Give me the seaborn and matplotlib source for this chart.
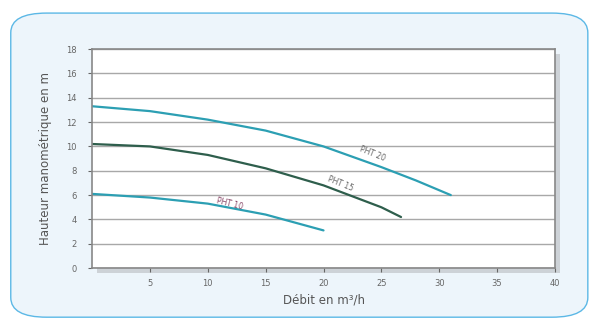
import pandas as pd
import numpy as np
import matplotlib
matplotlib.use('Agg')
import matplotlib.pyplot as plt
from matplotlib.patches import FancyBboxPatch
import seaborn as sns

# courbes
debit_20 = [0, 5, 10, 15, 20, 25, 28, 31]
haut_20 = [13.3, 12.9, 12.2, 11.3, 10.0, 8.3, 7.2, 6.0]
debit_15 = [0, 5, 10, 15, 20, 25, 26.7]
haut_15 = [10.2, 10.0, 9.3, 8.2, 6.8, 5.0, 4.2]
debit_10 = [0, 5, 10, 15, 20]
haut_10 = [6.1, 5.8, 5.3, 4.4, 3.1]
noms = ['PHT 20', 'PHT 15', 'PHT 10']

df = pd.concat([
    pd.DataFrame({'debit': debit_20, 'hauteur': haut_20, 'pompe': noms[0]}),
    pd.DataFrame({'debit': debit_15, 'hauteur': haut_15, 'pompe': noms[1]}),
    pd.DataFrame({'debit': debit_10, 'hauteur': haut_10, 'pompe': noms[2]}),
])

sns.set_style('white')
plt.rcParams['font.family'] = ['DejaVu Sans']

fig = plt.figure(figsize=(5.98, 3.27), dpi=100)
fig.patch.set_facecolor('white')
# cadre arrondi bleu clair
cadre = FancyBboxPatch((0.018, 0.03), 0.965, 0.93, boxstyle='round,pad=0,rounding_size=0.06',
                       transform=fig.transFigure, facecolor='#edf5fb', edgecolor='#5cb8e6',
                       linewidth=1.0, zorder=0)
fig.patches.append(cadre)
# ombre portée
ombre = FancyBboxPatch((0.162, 0.165), 0.774, 0.670, boxstyle='square,pad=0',
                       transform=fig.transFigure, facecolor='#b8bcc0', edgecolor='none',
                       alpha=0.6, zorder=0.5)
fig.patches.append(ombre)

ax = fig.add_axes([0.154, 0.180, 0.774, 0.670])
ax.set_zorder(2)

palette = {'PHT 20': '#2c9fb3', 'PHT 15': '#2e5e4c', 'PHT 10': '#2c9fb3'}
sns.lineplot(data=df, x='debit', y='hauteur', hue='pompe', palette=palette,
             linewidth=1.6, legend=False, ax=ax, sort=False, estimator=None)

ax.set_xlim(0, 40)
ax.set_ylim(0, 18)
ax.set_xticks(range(5, 41, 5))
ax.set_yticks(range(0, 19, 2))
ax.yaxis.grid(True, color='#a8a8a8', linewidth=1.0)
ax.xaxis.grid(False)
ax.tick_params(axis='both', labelsize=6, colors='#666666', length=3, direction='out',
               left=True, bottom=True)
ax.tick_params(axis='y', pad=8)
ax.tick_params(axis='x', pad=5)
for s in ax.spines.values():
    s.set_color('#888888')
    s.set_linewidth(1.2)
ax.set_facecolor('white')
ax.set_xlabel('Débit en m³/h', fontsize=8.5, color='#555555', labelpad=4)
ax.set_ylabel('Hauteur manométrique en m', fontsize=8.5, color='#555555', labelpad=10)

# étiquettes des courbes
ax.text(24.2, 9.4, 'PHT 20', fontsize=5.5, color='#666666', rotation=-22, ha='center', va='center')
ax.text(21.5, 6.9, 'PHT 15', fontsize=5.5, color='#666666', rotation=-22, ha='center', va='center')
ax.text(11.9, 5.3, 'PHT 10', fontsize=5.5, color='#884466', rotation=-14, ha='center', va='center')

fig.savefig('out.png', dpi=100)
